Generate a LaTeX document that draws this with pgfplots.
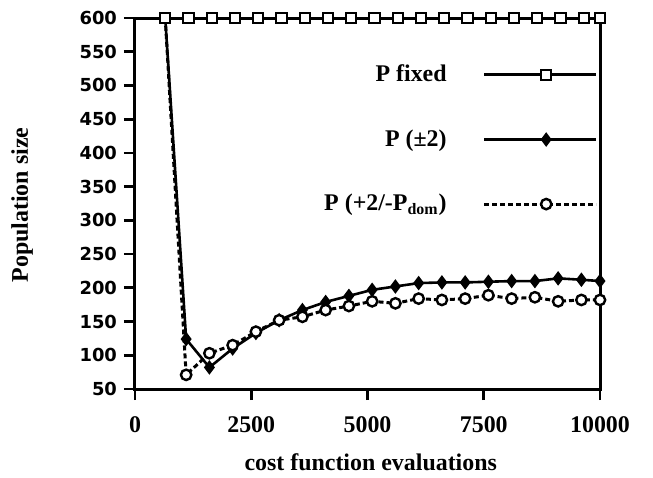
\documentclass[border=0pt]{standalone}
\usepackage{fontspec}
\setmainfont{Liberation Serif}
\newfontfamily\ysans{DejaVu Sans}
\usepackage{pgfplots}
\pgfplotsset{compat=1.18}
\begin{document}
\begin{tikzpicture}
\path[use as bounding box] (-67.5bp,-44.5bp) rectangle (259bp,194.5bp);
\begin{axis}[
  scale only axis,
  width=232.5bp, height=185.5bp,
  xmin=0, xmax=10000, ymin=50, ymax=600,
  xtick={0,2500,5000,7500,10000},
  ytick={50,100,...,600},
  scaled x ticks=false,
  xtick pos=bottom, ytick pos=left,
  tick align=outside,
  major tick length=5.5bp,
  tick style={line width=1.4bp, black},
  axis line style={line width=1.5bp},
  /pgf/number format/assume math mode=true,
  /pgf/number format/1000 sep={},
  xticklabel style={font=\fontsize{12}{14}\selectfont\bfseries, yshift=-5bp},
  yticklabel style={font=\ysans\fontsize{9}{11}\selectfont\bfseries},
  xlabel={cost function evaluations},
  ylabel={Population size},
  xlabel style={font=\fontsize{12}{14}\selectfont\bfseries, at={(axis description cs:0.507,-0.22)}, anchor=base},
  ylabel style={font=\fontsize{12}{14}\selectfont\bfseries, at={(axis description cs:-0.243,0.496)}, anchor=center},
  legend style={at={(axis description cs:1.009,0.896)}, anchor=north east, draw=none, fill=none,
    font=\fontsize{12}{14}\selectfont\bfseries, row sep=18.5bp, column sep=16bp},
  legend plot pos=right,
  legend cell align=right,
  legend image code/.code={\draw[#1, mark indices={2}] plot coordinates {(0bp,0bp) (31bp,0bp) (56bp,0bp)};},
]
\addplot[black, line width=1.6bp, mark=square*, mark size=2.6bp, mark options={solid, fill=white, line width=1bp}]
  coordinates {(650,600) (1150,600) (1650,600) (2150,600) (2650,600) (3150,600) (3650,600) (4150,600) (4650,600) (5150,600)
   (5650,600) (6150,600) (6650,600) (7150,600) (7650,600) (8150,600) (8650,600) (9150,600) (9650,600) (10000,600)};
\addlegendentry{P fixed}
\addplot[black, line width=1.3bp, mark=diamond*, mark size=3bp, mark options={solid, fill=black, line width=0.8bp},
  mark indices={2,3,4,5,6,7,8,9,10,11,12,13,14,15,16,17,18,19,20}]
  coordinates {(650,600) (1100,124) (1600,82) (2100,110) (2600,133) (3100,152) (3600,167) (4100,179) (4600,188) (5100,197)
   (5600,202) (6100,207) (6600,208) (7100,208) (7600,209) (8100,210) (8600,210) (9100,214) (9600,212) (10000,210)};
\addlegendentry{P (±2)}
\addplot[black, line width=1.5bp, dash pattern=on 2.5bp off 1.5bp, mark=*, mark size=2.6bp, mark options={solid, fill=white, line width=1.2bp},
  mark indices={2,3,4,5,6,7,8,9,10,11,12,13,14,15,16,17,18,19,20}]
  coordinates {(650,600) (1100,71) (1600,103) (2100,115) (2600,135) (3100,152) (3600,157) (4100,167) (4600,173) (5100,180)
   (5600,177) (6100,184) (6600,182) (7100,184) (7600,189) (8100,184) (8600,186) (9100,180) (9600,182) (10000,182)};
\addlegendentry{P (+2/-P\textsubscript{dom})}
\end{axis}
\end{tikzpicture}
\end{document}
